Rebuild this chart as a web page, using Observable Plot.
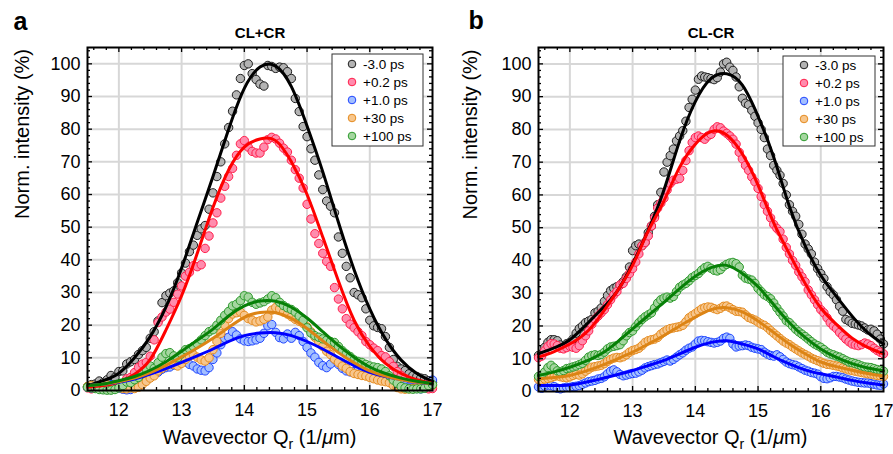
<!DOCTYPE html>
<html><head><meta charset="utf-8">
<script src="https://cdn.jsdelivr.net/npm/d3@7"></script>
<script src="https://cdn.jsdelivr.net/npm/@observablehq/plot@0.6"></script>
<style>
body{margin:0;background:#fff;}
#wrap{display:flex;width:893px;height:454px;overflow:hidden;}
#wrap svg{display:block;flex:none;}
</style></head><body><div id="wrap"></div>
<script>
// ---------- labels / styles ----------
const seriesLabels = ["-3.0 ps", "+0.2 ps", "+1.0 ps", "+30 ps", "+100 ps"];
const fillColors   = ["#b3b3b3", "#ff8cad", "#a3bfff", "#f7c68c", "#a5d6a0"];
const strokeColors = ["#1e1e1e", "#ff1f4b", "#1f45ff", "#e58b1f", "#2c9a2c"];
const lineColors   = ["#000000", "#ff0000", "#0000ff", "#dc8415", "#078007"];
const xTicks = [12, 13, 14, 15, 16, 17];
const yTicks = [0, 10, 20, 30, 40, 50, 60, 70, 80, 90, 100];

// ---------- fit curves (both panels), sampled every 0.25 ----------
const qFit = [11.5, 11.75, 12, 12.25, 12.5, 12.75, 13, 13.25, 13.5, 13.75, 14, 14.25, 14.5, 14.75, 15, 15.25, 15.5, 15.75, 16, 16.25, 16.5, 16.75, 17];

const blackFitA  = [1.5, 3.0, 5.3, 10.0, 16.5, 25.5, 37.5, 51.5, 65.5, 80, 92.5, 99, 99.3, 93, 81, 67, 51.5, 37, 25, 15.8, 9.3, 5.2, 2.8];
const redFitA    = [1.0, 1.5, 2.6, 5.0, 9.5, 18.5, 29, 42, 56, 67.5, 74.5, 77, 76.5, 70, 60, 47, 33.5, 21.5, 13.5, 8.3, 5.2, 3.3, 2.2];
const blueFitA   = [1.5, 1.9, 2.5, 3.5, 5.0, 6.7, 8.6, 10.6, 12.7, 15.0, 16.8, 17.6, 17.7, 16.8, 15.0, 12.7, 10.1, 7.6, 5.6, 4.3, 3.4, 2.6, 2.0];
const orangeFitA = [1.5, 1.9, 2.7, 3.8, 5.5, 7.7, 10.3, 13.0, 16.0, 19.3, 22.4, 23.9, 23.8, 22.1, 19.0, 15.2, 11.6, 8.5, 6.0, 4.4, 3.3, 2.6, 2.0];
const greenFitA  = [1.5, 2.0, 3.0, 4.3, 6.2, 8.8, 12.0, 15.4, 18.8, 22.8, 25.9, 27.4, 27.3, 25.5, 22.2, 18.0, 13.8, 10.2, 7.2, 5.2, 3.8, 2.8, 2.1];

const blackFitB  = [11.5, 13.3, 15.8, 20.2, 25, 30.5, 39, 49.3, 61.5, 76.5, 88.5, 95.5, 97, 93.5, 84, 71.5, 56.5, 44.5, 35.5, 29, 23, 18, 14.5];
const redFitB    = [10.5, 12.2, 14.5, 17.8, 23.5, 30.5, 38.5, 49, 58.2, 68.5, 75.5, 79.3, 78.3, 72.5, 63, 51.5, 42, 33, 25.5, 20.5, 16.3, 13.5, 11.5];
const blueFitB   = [1.8, 1.8, 2.0, 2.8, 3.9, 5.1, 6.4, 7.9, 9.5, 11.5, 13.5, 15, 15.5, 14.5, 13, 10.6, 8.4, 6.6, 5.4, 4.4, 3.4, 2.6, 2.0];
const orangeFitB = [3.9, 4.3, 4.9, 6.2, 7.9, 9.9, 12.0, 14.5, 17.1, 20, 22.7, 25, 25.6, 24.3, 21.5, 18, 14.5, 11.5, 9.0, 7.6, 6.5, 5.5, 4.7];
const greenFitB  = [4.9, 6.0, 7.4, 9.2, 11.5, 15.0, 19.1, 23.2, 27.2, 31.4, 35.2, 37.8, 38.5, 36, 32, 26.5, 21, 16.5, 13, 10.4, 8.5, 7.2, 6.3];

// ---------- measured points, panel a (CL+CR): Q = 11.5 + k*0.0625 ----------
const qStartA = 11.5, qStepA = 0.0625;
const blackA = [1.2, 1.8, 2.0, 2.9, 2.4, 3.3, 4.6, 4.0,
  5.8, 6.0, 8.1, 8.8, 9.5, 11.0, 12.2, 13.2,
  16.0, 18.0, 21.3, 26.9, 29.0, 29.8, 30.5, 33.0,
  36.0, 39.0, 42.5, 44.5, 47.5, 49.5, 50.5, 55.5,
  60.5, 65.5, 70, 75.5, 80.5, 85.5, 90.5, 95.5,
  99.5, 100, 97, 95.2, 93.8, 93.2, 99.5, 99.2,
  98.6, 99.0, 98.8, 97.6, 95.5, 89.4, 85.4, 80.8,
  77.7, 74, 70.5, 66, 61.5, 58, 56.4, 54.4,
  47, 42, 38, 34.5, 30, 29.3, 28.4, 25,
  21.5, 19.8, 19.3, 18.9, 16.5, 13.2, 9.5, 7.4,
  6.6, 6.1, 5.1, 4.6, 4.3, 3.8, 3.6, 3.0, 2.5];
const redA = [0.8, 0.5, 1.2, 0.9, 1.6, 1.2, 0.6, 1.8,
  0.8, 1.5, 3.6, 4.0, 5.5, 7.1, 8.1, 8.6,
  10.5, 15.5, 20.8, 22.5, 24.0, 24.9, 27.0, 29.5,
  32.0, 35.0, 36.2, 38.2, 37.9, 38.5, 43.5, 47.3,
  51.3, 54.4, 58.9, 62.5, 65.5, 68, 72, 75.5,
  76.5, 74.5, 73.2, 72.7, 72.7, 74.5, 76.8, 77.5,
  77.0, 75.7, 74.2, 73.0, 70.5, 67.6, 65, 62,
  57, 52.5, 48, 45, 42, 39.5, 38, 31.5,
  28, 25, 22, 20.3, 19.2, 18, 16.8, 15,
  14, 13, 12.2, 10.7, 10.3, 8.8, 7.4, 5.8,
  4.6, 3.7, 3.0, 2.4, 1.8, 1.3, 0.9, 0.5, 0.6];
const blueA = [1.0, 0.8, 1.2, 1.5, 1.0, 1.3, 1.8, 1.4,
  0.8, 0.4, 0.2, 0.3, 1.2, 2.2, 3.0, 3.8,
  4.5, 5.0, 5.6, 6.5, 7.0, 7.2, 7.8, 8.5,
  9.0, 8.8, 8.0, 7.5, 6.6, 6.2, 6.0, 7.0,
  9.5, 11.5, 14.0, 16.0, 16.3, 18.0, 17.0, 15.8,
  15.2, 15.0, 15.2, 15.5, 16.0, 17.5, 19.8, 20.2,
  17.8, 16.2, 15.8, 17.3, 16.0, 17.8, 16.8, 15.0,
  13.2, 11.5, 10.2, 8.6, 7.6, 7.0, 8.1, 9.6,
  8.0, 6.8, 6.0, 5.7, 5.8, 6.1, 5.6, 5.1,
  4.5, 4.0, 3.7, 3.3, 3.0, 2.7, 2.4, 2.1,
  1.8, 1.4, 1.0, 0.8, 0.6, 0.5, 0.8, 2.0, 3.2];
const orangeA = [1.2, 1.5, 1.0, 0.8, 1.4, 1.8, 1.5, 1.2,
  1.0, 0.6, 0.5, 0.8, 0.6, 1.0, 1.8, 2.8,
  3.8, 4.5, 6.0, 6.8, 7.5, 8.2, 8.0, 7.5,
  8.3, 9.5, 10.5, 11.0, 10.2, 9.4, 9.0, 10.0,
  12.5, 15.0, 17.5, 20.0, 22.0, 23.4, 23.8, 24.0,
  23.0, 22.0, 21.5, 21.0, 21.3, 21.8, 22.5, 24.6,
  25.4, 25.0, 24.0, 23.4, 22.6, 21.8, 21.2, 20.5,
  19.5, 18.0, 16.3, 14.8, 13.5, 12.0, 11.0, 9.6,
  8.6, 7.5, 6.8, 5.8, 5.2, 4.9, 4.6, 4.4,
  4.0, 3.6, 3.2, 2.9, 2.7, 2.4, 1.5, 0.9,
  0.5, 0.4, 0.5, 0.6, 0.8, 1.0, 1.2, 1.5, 1.6];
const greenA = [1.0, 0.8, 0.6, 0.3, 0.2, 0.1, 0.1, 0.3,
  0.8, 1.5, 2.6, 2.4, 3.3, 4.0, 5.2, 6.5,
  7.5, 6.8, 8.5, 10.2, 11.3, 11.6, 10.6, 10.0,
  11.2, 12.5, 12.8, 13.5, 14.3, 15.5, 16.8, 18.0,
  18.6, 20.0, 21.5, 23.0, 24.2, 25.9, 26.4, 27.5,
  29.0, 28.6, 27.0, 26.4, 26.8, 27.2, 28.0, 29.0,
  28.4, 27.0, 26.0, 25.3, 24.8, 24.0, 22.8, 21.5,
  19.2, 17.6, 16.8, 16.3, 15.8, 15.4, 15.0, 14.7,
  13.5, 12.2, 11.2, 10.4, 9.4, 8.9, 8.6, 8.0,
  7.5, 7.2, 7.0, 6.6, 5.8, 4.5, 3.2, 2.2,
  1.2, 0.8, 0.5, 0.4, 0.5, 0.5, 0.7, 1.5, 1.8];

// ---------- measured points, panel b (CL-CR): Q = 11.5 + k*0.05 ----------
const qStartB = 11.5, qStepB = 0.05;
const blackB = [11.0, 11.5, 13.5, 15.0, 15.8,  15.8, 15.5, 14.2, 13.6, 14.6,
  15.0, 16.0, 17.8, 19.2, 20.0,  21.0, 21.5, 22.0, 24.0, 24.5,
  25.5, 27.5, 29.3, 30.8, 31.5,  32.0, 32.5, 33.5, 35.0, 38.0,
  43.0, 44.5, 45.0, 44.5, 45.5,  48.5, 50.5, 53.5, 57.0, 60.8,
  67.0, 70.0, 72.0, 74.0, 76.5,  78.0, 79.6, 82.5, 86.7, 89.2,
  92.0, 95.3, 96.3, 96.0, 95.8,  95.5, 95.2, 95.8, 97.5, 100.0,
  100.5, 99.0, 98.0, 96.0, 93.0,  89.5, 88.0, 87.5, 85.8, 84.0,
  82.0, 80.0, 77.5, 74.0, 72.0,  69.0, 67.5, 66.0, 63.5, 60.0,
  57.0, 55.0, 53.5, 51.0, 48.0,  45.0, 43.5, 42.0, 39.5, 37.5,
  36.0, 34.5, 32.0, 30.5, 29.5,  28.0, 26.0, 24.5, 22.0, 21.5,
  20.8, 20.6, 20.3, 20.0, 19.4,  18.8, 19.0, 18.5, 17.5, 16.0, 14.5];
const redB = [10.3, 10.8, 12.5, 13.8, 14.6,  14.5, 14.0, 13.2, 13.0, 13.4,
  13.8, 13.5, 13.2, 14.0, 15.5,  17.0, 18.5, 20.5, 22.0, 23.0,
  24.0, 25.0, 26.5, 28.0, 29.5,  30.5, 32.5, 33.0, 34.5, 36.0,
  37.5, 39.5, 42.0, 44.5, 45.5,  47.5, 50.5, 53.0, 56.0, 57.5,
  59.0, 61.5, 63.5, 64.5, 64.8,  65.0, 67.5, 70.5, 73.5, 76.0,
  77.5, 78.0, 77.5, 77.0, 78.0,  78.5, 80.0, 80.8, 80.5, 79.5,
  78.8, 78.0, 77.0, 75.5, 73.0,  71.0, 69.0, 67.5, 65.5, 64.0,
  62.0, 59.5, 57.0, 55.0, 53.0,  51.0, 49.8, 48.8, 46.5, 44.0,
  42.0, 40.0, 38.5, 36.5, 35.0,  33.5, 31.0, 29.5, 28.0, 26.5,
  25.0, 24.0, 22.5, 21.0, 20.0,  19.2, 18.0, 17.0, 16.0, 15.2,
  14.5, 14.2, 14.0, 14.3, 14.8,  14.5, 14.0, 13.2, 12.5, 12.0, 11.5];
const blueB = [1.4, 1.0, 1.6, 2.0, 1.8,  1.5, 1.0, 0.8, 1.1, 1.3,
  1.2, 1.5, 1.6, 1.8, 2.2,  2.6, 3.0, 3.2, 3.4, 3.8,
  4.0, 4.5, 5.4, 6.2, 6.6,  6.0, 5.2, 4.8, 5.0, 5.3,
  5.5, 5.6, 6.0, 6.5, 7.2,  7.6, 7.9, 8.2, 8.4, 8.8,
  9.2, 9.6, 9.3, 9.8, 10.5,  11.2, 11.8, 12.6, 13.2, 13.6,
  14.5, 15.4, 15.6, 15.5, 15.2,  15.0, 14.8, 15.0, 15.4, 16.2,
  16.6, 16.2, 14.5, 13.6, 13.9,  14.0, 14.2, 14.0, 13.5, 13.2,
  13.0, 12.8, 12.0, 11.4, 11.0,  10.8, 11.2, 10.6, 9.8, 9.0,
  8.5, 8.2, 8.0, 7.5, 7.0,  6.5, 6.2, 5.8, 5.6, 5.3,
  4.5, 4.0, 3.9, 4.2, 4.6,  4.6, 4.4, 4.2, 3.8, 3.5,
  3.2, 3.0, 2.8, 2.7, 2.6,  2.6, 2.4, 2.2, 2.0, 1.9, 2.3];
const orangeB = [3.7, 3.5, 3.8, 4.0, 4.2,  4.6, 4.8, 4.5, 4.3, 4.2,
  4.5, 4.9, 5.2, 5.0, 5.4,  6.2, 6.8, 7.4, 7.6, 7.8,
  8.0, 8.5, 9.2, 9.8, 10.2,  10.4, 10.3, 10.6, 11.2, 12.0,
  12.5, 12.8, 13.2, 14.0, 15.0,  15.5, 15.8, 16.0, 16.5, 17.5,
  18.2, 18.8, 19.2, 19.4, 19.6,  19.8, 20.2, 21.3, 22.5, 23.2,
  23.8, 24.5, 25.2, 25.6, 25.8,  25.7, 25.3, 25.0, 25.4, 26.0,
  26.1, 25.6, 25.0, 24.5, 24.4,  24.2, 23.4, 22.6, 22.2, 21.8,
  21.2, 20.6, 20.2, 19.5, 18.6,  17.8, 17.0, 16.2, 15.4, 14.8,
  14.3, 13.6, 13.0, 12.4, 11.8,  11.3, 10.8, 10.2, 9.8, 9.4,
  9.0, 8.6, 8.3, 8.2, 8.0,  7.8, 7.6, 7.2, 6.9, 6.6,
  6.4, 6.2, 6.0, 5.8, 5.6,  5.4, 5.3, 5.1, 4.9, 4.8, 4.6];
const greenB = [4.6, 5.0, 6.0, 7.3, 8.0,  7.2, 6.3, 6.0, 6.4, 7.0,
  7.2, 7.5, 7.8, 8.2, 8.6,  9.5, 10.5, 11.0, 11.2, 11.0,
  11.3, 12.0, 13.0, 13.6, 13.8,  14.0, 14.3, 15.5, 17.0, 18.0,
  18.5, 19.8, 21.0, 22.0, 22.8,  23.4, 24.0, 25.5, 27.0, 28.0,
  28.5, 28.8, 28.5, 29.0, 30.5,  31.8, 32.5, 33.0, 33.8, 34.8,
  35.4, 36.0, 37.0, 37.8, 38.2,  37.6, 37.0, 36.8, 37.2, 38.2,
  38.8, 39.2, 39.4, 39.0, 38.0,  35.5, 34.6, 34.3, 34.0, 33.0,
  31.5, 30.5, 29.5, 29.0, 28.3,  27.0, 25.5, 24.2, 23.0, 21.6,
  21.0, 20.0, 19.0, 18.2, 17.5,  16.8, 16.0, 15.2, 14.5, 14.0,
  13.5, 12.8, 12.0, 11.5, 11.2,  10.8, 10.5, 10.0, 9.5, 9.0,
  8.8, 8.5, 8.2, 7.8, 7.5,  7.4, 7.3, 7.0, 6.7, 6.5, 6.2];

// ---------- drawing ----------
const FONT = "'Liberation Sans', Arial, Helvetica, sans-serif";
const H = 454;
const gridX = [12, 13, 14, 15, 16];
const gridY = [10, 20, 30, 40, 50, 60, 70, 80, 90, 100];
const minorX = d3.range(58, 86).map(i => i / 5).filter(v => Math.abs(v - Math.round(v)) > 1e-6);
const minorY = d3.range(2, 105, 2).filter(v => v % 10 !== 0);
const majorY = d3.range(10, 101, 10);

function panel(o) {
  const {width, ml, mr, mt, mb} = o;
  const fw = width - ml - mr, fh = H - mt - mb;
  const marks = [
    Plot.ruleX(gridX, {stroke: "#d7d7d7", strokeWidth: 2}),
    Plot.ruleY(gridY, {stroke: "#d7d7d7", strokeWidth: 2})
  ];
  o.points.forEach((arr, i) => {
    const rows = arr.map((v, k) => ({q: o.q0 + k * o.step, v}));
    marks.push(Plot.dot(rows, {x: "q", y: "v", r: 4.2, fill: fillColors[i], stroke: strokeColors[i], strokeWidth: 1}));
  });
  o.fits.forEach((arr, i) => {
    const rows = arr.map((v, k) => ({q: qFit[k], v}));
    marks.push(Plot.line(rows, {x: "q", y: "v", stroke: lineColors[i], strokeWidth: 3, curve: "natural"}));
  });
  const tk = {stroke: "#000", strokeWidth: 1.3};
  marks.push(
    Plot.tickX(gridX, {x: d => d, insetTop: fh - 5, ...tk}),
    Plot.tickX(minorX, {x: d => d, insetTop: fh - 3, ...tk}),
    Plot.tickX(gridX, {x: d => d, insetBottom: fh - 5, ...tk}),
    Plot.tickX(minorX, {x: d => d, insetBottom: fh - 3, ...tk}),
    Plot.tickY(majorY, {y: d => d, insetRight: fw - 5, ...tk}),
    Plot.tickY(minorY, {y: d => d, insetRight: fw - 3, ...tk}),
    Plot.tickY(majorY, {y: d => d, insetLeft: fw - 5, ...tk}),
    Plot.tickY(minorY, {y: d => d, insetLeft: fw - 3, ...tk}),
    Plot.frame({stroke: "#000", strokeWidth: 2}),
    Plot.axisX({ticks: xTicks, tickSize: 0, tickPadding: 13, fontSize: 18, label: null, tickFormat: d => String(d)}),
    Plot.axisY({ticks: yTicks, tickSize: 0, tickPadding: 7, fontSize: 18, label: null, tickFormat: d => String(d)}),
    Plot.text([o.title], {text: d => d, frameAnchor: "top", dy: -10, lineAnchor: "bottom", fontSize: 15, fontWeight: "bold"}),
    Plot.text([o.letter], {text: d => d, frameAnchor: "top-left", dx: o.letterDx, dy: o.letterDy, textAnchor: "start", lineAnchor: "bottom", fontSize: 25, fontWeight: "bold"}),
    Plot.text(["Norm. intensity (%)"], {text: d => d, frameAnchor: "left", dx: o.yTitleDx, rotate: -90, fontSize: 20})
  );
  const svg = Plot.plot({
    width, height: H, marginLeft: ml, marginRight: mr, marginTop: mt, marginBottom: mb,
    x: {domain: [11.5, 17]}, y: {domain: [0, 105]},
    style: {fontFamily: FONT, color: "#000", background: "#fff", overflow: "visible"},
    marks
  });
  const s = d3.select(svg);
  // x-axis title with subscript
  const t = s.append("text").attr("x", ml + fw / 2).attr("y", 444).attr("text-anchor", "middle")
    .attr("font-size", 20).attr("fill", "#000").attr("font-family", FONT);
  t.append("tspan").text("Wavevector Q");
  t.append("tspan").attr("dy", 5).attr("font-size", 14).text("r");
  t.append("tspan").attr("dy", -5).text(" (1/");
  t.append("tspan").attr("font-style", "italic").text("\u03bc");
  t.append("tspan").text("m)");
  // legend
  const right = ml + fw;
  const bx = right - o.lg.r - o.lg.w, by = mt + o.lg.t;
  const g = s.append("g").attr("font-family", FONT).attr("text-anchor", "start");
  g.append("rect").attr("x", bx).attr("y", by).attr("width", o.lg.w).attr("height", o.lg.h)
    .attr("fill", "#fff").attr("stroke", "#333").attr("stroke-width", 1);
  seriesLabels.forEach((lab, i) => {
    const cy = by + o.lg.first + i * 18;
    g.append("circle").attr("cx", bx + o.lg.cx).attr("cy", cy).attr("r", 3.8)
      .attr("fill", fillColors[i]).attr("stroke", strokeColors[i]).attr("stroke-width", 1);
    g.append("text").attr("x", bx + o.lg.cx + 11).attr("y", cy + 5).attr("font-size", 13.5)
      .attr("text-anchor", "start").attr("fill", "#000").text(lab);
  });
  return svg;
}

const wrap = document.getElementById("wrap");
wrap.appendChild(panel({
  width: 446, ml: 87, mr: 14, mt: 47, mb: 64,
  letter: "a", title: "CL+CR", letterDx: -74, letterDy: -18, yTitleDx: -65,
  points: [blackA, redA, blueA, orangeA, greenA], q0: qStartA, step: qStepA,
  fits: [blackFitA, redFitA, blueFitA, orangeFitA, greenFitA],
  lg: {r: 9, w: 91, t: 7, h: 92, cx: 20, first: 10}
}));
wrap.appendChild(panel({
  width: 447, ml: 92, mr: 10, mt: 47, mb: 63,
  letter: "b", title: "CL-CR", letterDx: -70, letterDy: -19, yTitleDx: -68,
  points: [blackB, redB, blueB, orangeB, greenB], q0: qStartB, step: qStepB,
  fits: [blackFitB, redFitB, blueFitB, orangeFitB, greenFitB],
  lg: {r: 8, w: 92, t: 9, h: 90, cx: 21, first: 9}
}));
</script>
</body></html>
